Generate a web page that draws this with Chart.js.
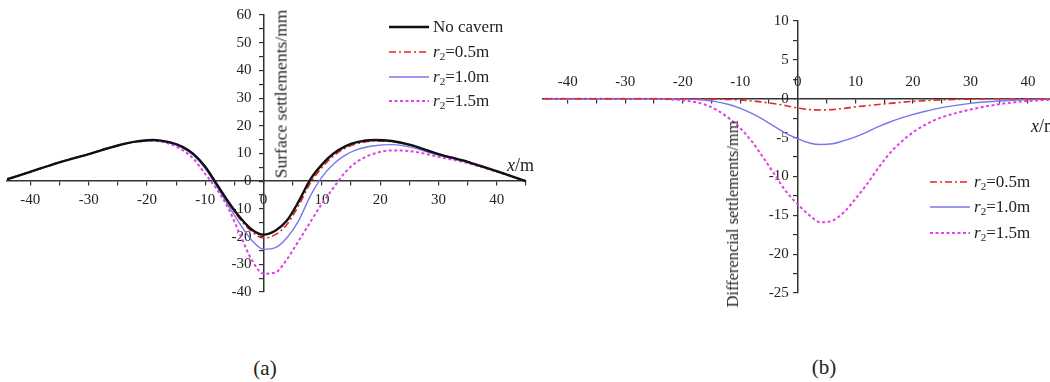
<!DOCTYPE html>
<html>
<head>
<meta charset="utf-8">
<script src="https://cdn.jsdelivr.net/npm/chart.js@4.4.1/dist/chart.umd.min.js"></script>
<style>
html, body { margin: 0; padding: 0; background: #fff; overflow: hidden; }
#page { position: relative; width: 1050px; height: 382px; overflow: hidden;
        font-family: "Liberation Serif", "Times New Roman", serif; color: #222; }
canvas { position: absolute; }
#chartA { left: 0; top: 0; }
#chartB { left: 536px; top: 0; }
.label { position: absolute; white-space: nowrap; }
.vtitle { transform: translate(-50%, -50%) rotate(-90deg); }
.xunit { font-size: 18px; transform: translateY(-50%); }
.caption { font-size: 21px; transform: translate(-50%, -50%); }
.legend { position: absolute; font-size: 17px; }
.legend-row { display: flex; align-items: center; }
.legend-row svg { margin-right: 4px; }
sub { font-size: 11px; vertical-align: -3px; line-height: 0; }
</style>
</head>
<body>
<div id="page">
  <canvas id="chartA" width="540" height="305"></canvas>
  <canvas id="chartB" width="520" height="305"></canvas>

  <div class="label vtitle" style="left:281px; top:94px; font-size:17.5px;">Surface settlements/mm</div>
  <div class="label xunit" style="left:507px; top:165px;"><i>x</i>/m</div>
  <div class="legend" id="legendA" style="left:389px; top:15px;"></div>

  <div class="label vtitle" style="left:733px; top:214px; font-size:16.4px;">Differencial settlements/mm</div>
  <div class="label xunit" style="left:1031px; top:126px;"><i>x</i>/m</div>
  <div class="legend" id="legendB" style="left:930px; top:169px;"></div>

  <div class="label caption" style="left:265px; top:368px;">(a)</div>
  <div class="label caption" style="left:824px; top:367px;">(b)</div>
</div>

<script>
// distance from tunnel axis (m)
const xValues = [-44, -40, -35, -30, -25, -22, -19, -16, -14, -12, -10, -8, -6, -4, -2, 0,
                 2, 4, 6, 8, 10, 12, 14, 16, 19, 22, 25, 30, 35, 40, 45];

// (a) surface settlements (mm)
const surfaceNoCavern = [0.7, 3.4, 6.8, 9.8, 12.9, 14.3, 14.9, 14.0, 12.5, 9.8, 5.2, -1.2, -7.6, -13.2, -17.5, -19.3,
                         -17.9, -14.2, -7.4, 0.6, 6.0, 10.0, 12.6, 14.1, 14.9, 14.5, 13.2, 9.8, 7.0, 3.6, 0.0];
const surfaceR05 = [0.7, 3.4, 6.8, 9.8, 12.9, 14.3, 14.9, 14.0, 12.5, 9.7, 5.1, -1.4, -8.0, -13.8, -18.2, -20.5,
                    -19.3, -15.6, -8.8, -0.8, 4.9, 9.1, 11.9, 13.5, 14.5, 14.3, 13.1, 9.8, 7.0, 3.6, 0.0];
const surfaceR10 = [0.7, 3.4, 6.8, 9.8, 12.9, 14.3, 14.8, 13.8, 12.2, 9.3, 4.6, -2.0, -8.9, -15.6, -21.4, -24.6,
                    -24.0, -20.4, -14.3, -5.4, 1.5, 6.2, 9.4, 11.4, 12.8, 13.2, 12.4, 9.4, 6.8, 3.5, 0.0];
const surfaceR15 = [0.7, 3.4, 6.8, 9.8, 12.9, 14.2, 14.6, 13.4, 11.4, 8.0, 2.6, -3.0, -10.0, -19.5, -28.5, -33.4,
                    -33.0, -28.2, -21.6, -14.8, -8.1, -2.3, 3.2, 7.0, 10.0, 11.1, 10.9, 8.8, 6.5, 3.4, 0.0];

// (b) differential settlements (mm)
const diffR05 = [0, 0, 0, 0, 0, 0, 0, -0.02, -0.05, -0.1, -0.15, -0.3, -0.45, -0.65, -0.9, -1.2,
                 -1.4, -1.45, -1.4, -1.25, -1.05, -0.9, -0.75, -0.6, -0.4, -0.25, -0.15, -0.05, 0, 0, 0];
const diffR10 = [0, 0, 0, 0, 0, 0, -0.05, -0.2, -0.4, -0.75, -1.25, -1.9, -2.7, -3.6, -4.5, -5.15,
                 -5.7, -5.9, -5.8, -5.4, -4.9, -4.3, -3.6, -3.0, -2.25, -1.65, -1.15, -0.6, -0.3, -0.1, 0];
const diffR15 = [0, 0, 0, 0, 0, -0.1, -0.3, -0.8, -1.5, -2.5, -3.8, -5.5, -7.6, -9.8, -12.0, -13.6,
                 -15.0, -15.9, -15.7, -14.6, -12.9, -11.0, -8.9, -7.0, -4.9, -3.4, -2.4, -1.4, -0.7, -0.3, -0.1];

const seriesNames = ['No cavern', 'r2=0.5m', 'r2=1.0m', 'r2=1.5m'];

// labelled ticks
const xTickLabels = [-40, -30, -20, -10, 0, 10, 20, 30, 40];
const yTickLabelsA = [-40, -30, -20, -10, 0, 10, 20, 30, 40, 50, 60];
const yTickLabelsB = [-25, -20, -15, -10, -5, 0, 5, 10];

const lineStyles = {
    'No cavern': {borderColor: '#111111', borderWidth: 2.4, borderDash: []},
    'r2=0.5m': {borderColor: '#e3262a', borderWidth: 1.6, borderDash: [7, 3, 2, 3]},
    'r2=1.0m': {borderColor: '#7777ee', borderWidth: 1.4, borderDash: []},
    'r2=1.5m': {borderColor: '#e040e8', borderWidth: 2, borderDash: [3, 2.5]}
};

const tickFont = {family: 'Liberation Serif', size: 15};

function toPoints(values) {
    return xValues.map((x, i) => ({x: x, y: values[i]}));
}

function makeDataset(name, values) {
    return Object.assign({
        label: name,
        data: toPoints(values),
        pointRadius: 0,
        fill: false,
        tension: 0.4,
        cubicInterpolationMode: 'monotone'
    }, lineStyles[name]);
}

// centred y axes ignore ticks.padding, so the gap comes from trailing thin spaces
function axisScale(min, max, step, labels, position, padding, gap) {
    return {
        type: 'linear',
        min: min,
        max: max,
        position: position,
        border: {display: true, color: '#333', width: 1.5},
        grid: {drawOnChartArea: false, drawTicks: true, tickLength: 4, color: '#333', lineWidth: 1.2},
        ticks: {
            stepSize: step,
            includeBounds: false,
            autoSkip: false,
            maxRotation: 0,
            padding: padding,
            color: '#222',
            font: tickFont,
            callback: (v) => labels.includes(v) ? String(v) + gap : ''
        }
    };
}

function baseOptions(scales, padding) {
    return {
        responsive: false,
        animation: false,
        layout: {padding: padding},
        plugins: {legend: {display: false}, tooltip: {enabled: false}},
        scales: scales
    };
}

function buildLegend(el, datasets) {
    datasets.forEach(ds => {
        let row = document.createElement('div');
        row.className = 'legend-row';
        row.style.height = el.dataset.row + 'px';
        let dash = ds.borderDash.length ? ds.borderDash.join(' ') : 'none';
        row.innerHTML = '<svg width="40" height="10"><line x1="0" y1="5" x2="40" y2="5" stroke="' + ds.borderColor +
            '" stroke-width="' + ds.borderWidth + '" stroke-dasharray="' + dash + '"/></svg>' +
            '<span>' + ds.label.replace(/^r2/, '<i>r</i><sub>2</sub>') + '</span>';
        el.appendChild(row);
    });
}

const datasetsA = [
    makeDataset(seriesNames[0], surfaceNoCavern),
    makeDataset(seriesNames[1], surfaceR05),
    makeDataset(seriesNames[2], surfaceR10),
    makeDataset(seriesNames[3], surfaceR15)
];

const datasetsB = [
    makeDataset(seriesNames[1], diffR05),
    makeDataset(seriesNames[2], diffR10),
    makeDataset(seriesNames[3], diffR15)
];

new Chart(document.getElementById('chartA').getContext('2d'), {
    type: 'line',
    data: {datasets: datasetsA},
    options: baseOptions({
        x: axisScale(-44, 45, 5, xTickLabels, {y: 0}, 6, ''),
        y: axisScale(-40, 60, 5, yTickLabelsA, {x: 0}, 0, '\u2009\u2009\u2009\u2009')
    }, {left: 7, top: 15, right: 14, bottom: 13})
});

new Chart(document.getElementById('chartB').getContext('2d'), {
    type: 'line',
    data: {datasets: datasetsB},
    options: baseOptions({
        x: axisScale(-44.3, 44, 5, xTickLabels, {y: 0}, -30, ''),
        y: axisScale(-25, 10, 2.5, yTickLabelsB, {x: 0}, 0, '\u2009\u2009\u2009')
    }, {left: 7, top: 21, right: 5, bottom: 12})
});

let legendA = document.getElementById('legendA');
legendA.dataset.row = 24.7;
buildLegend(legendA, datasetsA);
let legendB = document.getElementById('legendB');
legendB.dataset.row = 25.5;
buildLegend(legendB, datasetsB);
</script>
</body>
</html>
